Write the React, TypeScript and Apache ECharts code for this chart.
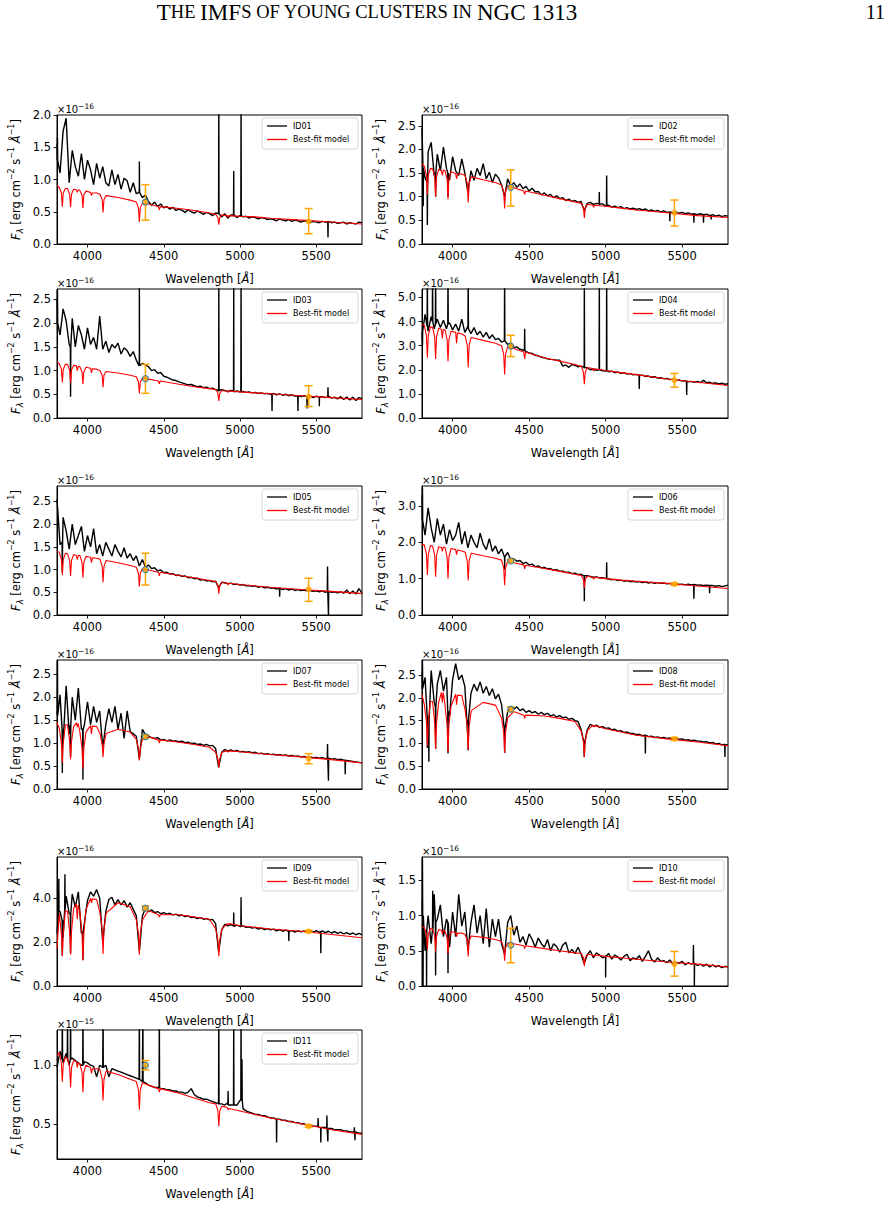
import React, { useEffect, useRef } from "react";
import * as echarts from "echarts";

// ---------------- DATA ----------------
const PANEL_IDS = ["ID01", "ID02", "ID03", "ID04", "ID05", "ID06", "ID07", "ID08", "ID09", "ID10", "ID11"];
const SCALE_EXP = ["−16", "−16", "−16", "−16", "−16", "−16", "−16", "−16", "−16", "−16", "−15"];
const X_MIN = 3800;
const X_MAX = 5800;
const X_TICKS = [4000, 4500, 5000, 5500];
const Y_MIN = [0, 0, 0, 0, 0, 0, 0, 0, 0, 0, 0.2];
const Y_MAX = [2.0, 2.73, 2.72, 5.35, 2.84, 3.55, 2.81, 2.83, 5.89, 1.83, 1.3];
const Y_TICKS = [
  [0, 0.5, 1, 1.5, 2],
  [0, 0.5, 1, 1.5, 2, 2.5],
  [0, 0.5, 1, 1.5, 2, 2.5],
  [0, 1, 2, 3, 4, 5],
  [0, 0.5, 1, 1.5, 2, 2.5],
  [0, 1, 2, 3],
  [0, 0.5, 1, 1.5, 2, 2.5],
  [0, 0.5, 1, 1.5, 2, 2.5],
  [0, 2, 4],
  [0, 0.5, 1, 1.5],
  [0.5, 1.0],
];

// observed spectra sampled every 20 Å from 3800 to 5800 (101 values)
const OBS_WAVE = Array.from({ length: 101 }, (_, i) => 3800 + 20 * i);

const OBS_ID01 = [
  1.55, 1.10, 1.75, 1.95, 0.95, 1.45, 1.20, 1.05, 1.40, 1.00,
  1.30, 1.15, 0.92, 1.25, 1.02, 1.20, 0.95, 0.90, 1.15, 0.92,
  1.08, 0.85, 1.02, 0.98, 0.80, 0.95, 0.78, 0.88, 0.72, 0.76,
  0.66, 0.60, 0.65, 0.58, 0.62, 0.56, 0.58, 0.54, 0.57, 0.52,
  0.54, 0.52, 0.49, 0.53, 0.50, 0.48, 0.51, 0.49, 0.46, 0.49,
  0.47, 0.44, 0.48, 0.46, 0.42, 0.47, 0.40, 0.45, 0.43, 0.41,
  0.44, 0.42, 0.43, 0.40, 0.42, 0.41, 0.39, 0.41, 0.40, 0.38,
  0.39, 0.38, 0.36, 0.39, 0.37, 0.36, 0.38, 0.35, 0.37, 0.36,
  0.34, 0.36, 0.35, 0.33, 0.35, 0.34, 0.33, 0.35, 0.34, 0.36,
  0.33, 0.34, 0.32, 0.33, 0.34, 0.31, 0.33, 0.32, 0.31, 0.34,
  0.33,
];
const OBS_ID02 = [
  2.45, 1.40, 1.95, 2.15, 1.45, 1.90, 1.55, 2.05, 1.60, 1.35,
  1.85, 1.55, 1.45, 1.80, 1.50, 1.10, 1.55, 1.35, 1.60, 1.45,
  1.70, 1.38, 1.52, 1.30, 1.48, 1.40, 1.25, 1.00, 1.38, 1.22,
  1.30, 1.20, 1.27, 1.17, 1.22, 1.12, 1.18, 1.10, 1.11, 1.04,
  1.08, 1.02, 1.05, 0.98, 1.02, 0.96, 0.98, 0.92, 0.95, 0.90,
  0.92, 0.88, 0.90, 0.70, 0.86, 0.88, 0.84, 0.86, 0.82, 0.85,
  0.80, 0.82, 0.78, 0.80, 0.77, 0.79, 0.75, 0.77, 0.74, 0.76,
  0.73, 0.75, 0.72, 0.74, 0.70, 0.72, 0.69, 0.71, 0.68, 0.70,
  0.67, 0.69, 0.66, 0.68, 0.65, 0.67, 0.64, 0.66, 0.63, 0.65,
  0.62, 0.64, 0.61, 0.63, 0.60, 0.62, 0.59, 0.61, 0.58, 0.60,
  0.59,
];
const OBS_ID03 = [
  2.50, 1.75, 2.30, 2.05, 1.55, 2.10, 1.50, 1.95, 1.75, 1.45,
  1.90, 1.55, 1.70, 1.45, 2.15, 1.45, 1.62, 1.38, 1.55, 1.48,
  1.58, 1.35, 1.48, 1.42, 1.30, 1.40, 1.22, 1.30, 1.15, 1.12,
  1.08, 1.00, 1.02, 0.94, 0.96, 0.88, 0.86, 0.83, 0.80, 0.79,
  0.76, 0.74, 0.72, 0.70, 0.71, 0.68, 0.66, 0.67, 0.64, 0.65,
  0.62, 0.63, 0.60, 0.56, 0.60, 0.58, 0.56, 0.58, 0.55, 0.57,
  0.55, 0.56, 0.54, 0.55, 0.53, 0.54, 0.52, 0.53, 0.51, 0.52,
  0.50, 0.52, 0.49, 0.51, 0.48, 0.50, 0.47, 0.49, 0.46, 0.48,
  0.45, 0.47, 0.44, 0.46, 0.43, 0.46, 0.42, 0.45, 0.43, 0.46,
  0.42, 0.44, 0.40, 0.45, 0.39, 0.44, 0.38, 0.44, 0.37, 0.43,
  0.41,
];
const OBS_ID04 = [
  3.30, 4.30, 3.60, 4.20, 3.70, 4.10, 3.75, 4.05, 3.70, 3.95,
  3.65, 3.90, 3.60, 4.10, 3.55, 3.80, 3.50, 3.75, 3.45, 3.60,
  3.35, 3.55, 3.30, 3.45, 3.25, 3.30, 3.15, 3.20, 3.05, 3.10,
  2.92, 2.95, 2.85, 2.82, 2.75, 2.70, 2.68, 2.60, 2.58, 2.52,
  2.50, 2.45, 2.43, 2.42, 2.40, 2.40, 2.15, 2.20, 2.10, 2.22,
  2.18, 2.12, 2.15, 2.05, 2.08, 2.00, 2.03, 1.98, 2.00, 1.96,
  1.95, 1.92, 1.94, 1.88, 1.90, 1.85, 1.88, 1.82, 1.84, 1.79,
  1.81, 1.76, 1.78, 1.73, 1.74, 1.69, 1.71, 1.66, 1.67, 1.63,
  1.64, 1.59, 1.61, 1.56, 1.58, 1.53, 1.55, 1.50, 1.52, 1.48,
  1.52, 1.47, 1.56, 1.46, 1.48, 1.43, 1.46, 1.41, 1.44, 1.40,
  1.42,
];
const OBS_ID05 = [
  2.55, 1.55, 2.15, 1.85, 1.45, 2.00, 1.55, 1.75, 1.95, 1.40,
  1.75, 1.50, 1.90, 1.35, 1.55, 1.30, 1.60, 1.45, 1.30, 1.55,
  1.40, 1.28, 1.48, 1.25, 1.35, 1.20, 1.30, 1.08, 1.22, 1.05,
  1.10, 1.02, 1.04, 0.97, 0.99, 0.93, 0.94, 0.90, 0.91, 0.87,
  0.88, 0.85, 0.86, 0.82, 0.83, 0.80, 0.81, 0.77, 0.78, 0.75,
  0.76, 0.73, 0.74, 0.60, 0.72, 0.71, 0.69, 0.70, 0.67, 0.68,
  0.66, 0.67, 0.64, 0.65, 0.63, 0.64, 0.61, 0.63, 0.60, 0.61,
  0.59, 0.60, 0.57, 0.59, 0.56, 0.58, 0.55, 0.57, 0.54, 0.56,
  0.54, 0.55, 0.53, 0.54, 0.52, 0.53, 0.51, 0.53, 0.50, 0.52,
  0.50, 0.51, 0.49, 0.51, 0.48, 0.55, 0.47, 0.53, 0.46, 0.58,
  0.48,
];
const OBS_ID06 = [
  3.30, 2.20, 2.95, 2.40, 2.00, 2.65, 2.20, 2.50, 1.95, 2.35,
  2.05, 2.20, 2.55, 1.95, 2.30, 1.85, 2.20, 2.00, 1.85, 2.25,
  1.95, 1.80, 2.10, 1.75, 1.90, 1.68, 1.82, 1.58, 1.72, 1.52,
  1.55, 1.48, 1.50, 1.42, 1.45, 1.38, 1.40, 1.33, 1.35, 1.30,
  1.31, 1.27, 1.28, 1.23, 1.25, 1.20, 1.21, 1.17, 1.18, 1.14,
  1.15, 1.11, 1.12, 1.05, 1.08, 1.06, 1.04, 1.05, 1.02, 1.03,
  1.00, 0.99, 0.97, 0.98, 0.95, 0.96, 0.93, 0.95, 0.92, 0.93,
  0.91, 0.92, 0.89, 0.91, 0.88, 0.90, 0.87, 0.89, 0.87, 0.88,
  0.86, 0.87, 0.85, 0.86, 0.84, 0.85, 0.83, 0.85, 0.83, 0.84,
  0.82, 0.83, 0.81, 0.82, 0.80, 0.81, 0.79, 0.81, 0.78, 0.80,
  0.82,
];
const OBS_ID07 = [
  1.70, 2.05, 1.00, 2.25, 1.20, 2.00, 1.50, 2.20, 1.30, 1.40,
  1.90, 1.40, 1.80, 1.45, 1.70, 0.90, 1.40, 1.75, 1.45, 1.80,
  1.30, 1.65, 1.10, 1.70, 1.25, 1.20, 1.15, 0.65, 1.30, 1.18,
  1.15, 1.12, 1.10, 1.12, 1.07, 1.08, 1.05, 1.07, 1.04, 1.05,
  1.03, 1.04, 1.01, 1.02, 0.99, 1.00, 0.97, 0.98, 0.95, 0.97,
  0.94, 0.95, 0.88, 0.47, 0.80, 0.86, 0.83, 0.85, 0.82, 0.84,
  0.81, 0.82, 0.80, 0.81, 0.79, 0.80, 0.77, 0.78, 0.76, 0.77,
  0.75, 0.76, 0.74, 0.75, 0.73, 0.74, 0.72, 0.73, 0.71, 0.72,
  0.70, 0.71, 0.69, 0.70, 0.68, 0.69, 0.67, 0.68, 0.66, 0.67,
  0.65, 0.66, 0.64, 0.65, 0.63, 0.62, 0.61, 0.60, 0.59, 0.58,
  0.57,
];
const OBS_ID08 = [
  2.55, 2.45, 1.30, 2.60, 1.90, 2.30, 2.60, 2.15, 2.45, 1.60,
  2.40, 2.75, 2.40, 2.50, 2.25, 1.10, 2.10, 2.30, 2.15, 2.35,
  2.10, 2.25, 2.05, 2.20, 1.98, 2.08, 1.85, 0.90, 1.70, 1.80,
  1.76, 1.80, 1.72, 1.76, 1.68, 1.72, 1.67, 1.70, 1.64, 1.68,
  1.63, 1.66, 1.60, 1.63, 1.58, 1.61, 1.56, 1.58, 1.53, 1.55,
  1.50, 1.48, 1.30, 0.75, 1.30, 1.42, 1.38, 1.40, 1.35, 1.37,
  1.33, 1.34, 1.30, 1.31, 1.27, 1.28, 1.24, 1.25, 1.22, 1.22,
  1.19, 1.20, 1.17, 1.18, 1.15, 1.16, 1.13, 1.14, 1.12, 1.13,
  1.11, 1.12, 1.10, 1.11, 1.09, 1.10, 1.07, 1.08, 1.06, 1.07,
  1.05, 1.05, 1.03, 1.04, 1.01, 1.02, 0.99, 1.00, 0.97, 0.98,
  0.96,
];
const OBS_ID09 = [
  2.40, 3.40, 2.20, 4.10, 3.30, 4.20, 3.60, 4.30, 2.40, 2.90,
  3.90, 4.30, 4.10, 4.40, 4.00, 2.00, 3.40, 3.95, 4.05, 3.70,
  3.95, 3.70, 3.90, 3.60, 3.80, 3.50, 3.20, 1.60, 3.20, 3.55,
  3.40, 3.48, 3.35, 3.40, 3.30, 3.35, 3.28, 3.32, 3.25, 3.28,
  3.20, 3.24, 3.17, 3.20, 3.12, 3.15, 3.08, 3.12, 3.05, 3.08,
  3.02, 3.04, 2.85, 1.55, 2.55, 2.82, 2.75, 2.80, 2.72, 2.78,
  2.72, 2.75, 2.68, 2.70, 2.64, 2.68, 2.60, 2.64, 2.58, 2.62,
  2.56, 2.60, 2.52, 2.58, 2.50, 2.55, 2.48, 2.53, 2.46, 2.52,
  2.47, 2.52, 2.45, 2.52, 2.45, 2.53, 2.45, 2.52, 2.44, 2.50,
  2.42, 2.48, 2.40, 2.46, 2.38, 2.44, 2.36, 2.42, 2.34, 2.40,
  2.33,
];
const OBS_ID10 = [
  1.20, 0.50, 1.00, 0.60, 1.30, 0.95, 1.15, 0.70, 0.95, 0.55,
  1.05, 0.70, 1.30, 0.85, 1.05, 0.50, 0.90, 1.15, 0.75, 1.00,
  0.60, 1.10, 0.55, 0.95, 0.70, 0.95, 0.60, 0.45, 0.90, 1.00,
  0.72, 0.85, 0.62, 0.70, 0.58, 0.74, 0.66, 0.55, 0.68, 0.60,
  0.55, 0.66, 0.50, 0.60, 0.56, 0.48, 0.58, 0.62, 0.47, 0.52,
  0.46, 0.55, 0.45, 0.32, 0.44, 0.50, 0.40, 0.47, 0.44, 0.40,
  0.43, 0.46, 0.38, 0.44, 0.41, 0.37, 0.42, 0.45, 0.36, 0.40,
  0.38, 0.43, 0.35, 0.42, 0.50, 0.38, 0.34, 0.40, 0.35, 0.36,
  0.33, 0.37, 0.31, 0.34, 0.32, 0.35, 0.30, 0.33, 0.31, 0.33,
  0.29, 0.31, 0.28, 0.31, 0.27, 0.30, 0.27, 0.29, 0.26, 0.28,
  0.27,
];
const OBS_ID11 = [
  0.98, 1.12, 1.02, 1.10, 1.00, 1.06, 1.04, 1.02, 1.00, 1.03,
  1.02, 1.00, 0.99, 0.90, 1.00, 0.98, 1.00, 0.90, 0.97, 0.96,
  0.95, 0.94, 0.93, 0.92, 0.91, 0.90, 0.89, 0.88, 0.86, 0.85,
  0.83, 0.82, 0.81, 0.81, 0.80, 0.80, 0.79, 0.79, 0.78, 0.78,
  0.77, 0.77, 0.76, 0.77, 0.80, 0.75, 0.73, 0.72, 0.71, 0.71,
  0.70, 0.69, 0.68, 0.67, 0.67, 0.66, 0.68, 0.66, 0.67, 0.66,
  0.70, 0.63, 0.61, 0.60, 0.59, 0.58, 0.58, 0.57, 0.57, 0.56,
  0.55, 0.55, 0.54, 0.54, 0.53, 0.53, 0.52, 0.52, 0.51, 0.51,
  0.50, 0.50, 0.49, 0.49, 0.48, 0.48, 0.47, 0.47, 0.47, 0.46,
  0.46, 0.45, 0.45, 0.45, 0.44, 0.44, 0.43, 0.43, 0.43, 0.42,
  0.42,
];

// narrow emission / absorption features: [wavelength, continuum level, peak level]
const SPIKES_ID01 = [[3803, 1.3, 1.65], [4340, 0.80, 1.28], [4861, 0.47, 2.3], [4959, 0.45, 1.13], [5007, 0.44, 2.3], [5577, 0.35, 0.10]];
const SPIKES_ID02 = [[3808, 1.6, 0.8], [3835, 1.3, 0.4], [3889, 1.5, 1.0], [3970, 1.5, 1.0], [4959, 0.85, 1.1], [5007, 0.82, 1.45], [5420, 0.68, 0.48], [5577, 0.64, 0.45], [5640, 0.62, 0.45], [5690, 0.61, 0.52]];
const SPIKES_ID03 = [[3803, 2.0, 2.7], [3889, 1.5, 0.45], [4340, 1.1, 3.0], [4861, 0.58, 3.0], [4959, 0.56, 3.0], [5007, 0.55, 3.0], [5210, 0.51, 0.15], [5380, 0.47, 0.15], [5440, 0.45, 0.2], [5520, 0.44, 0.25], [5577, 0.44, 0.65]];
const SPIKES_ID04 = [[3803, 3.6, 3.0], [3835, 3.8, 6.0], [3869, 4.0, 6.0], [3889, 3.9, 6.0], [3970, 3.9, 6.0], [4102, 3.7, 6.0], [4340, 3.2, 6.0], [4471, 2.8, 3.7], [4861, 2.1, 6.0], [4959, 2.0, 6.0], [5007, 1.96, 6.0], [5220, 1.78, 1.2], [5530, 1.52, 0.95]];
const SPIKES_ID05 = [[3835, 1.6, 0.95], [5260, 0.59, 0.4], [5574, 0.52, 1.07], [5580, 0.52, 0.0]];
const SPIKES_ID06 = [[3803, 2.6, 3.5], [4340, 1.6, 1.25], [4861, 1.08, 0.38], [5007, 1.0, 1.45], [5577, 0.84, 0.45], [5680, 0.81, 0.6]];
const SPIKES_ID07 = [[3803, 1.6, 2.8], [3835, 1.3, 0.35], [3889, 1.4, 0.7], [3970, 1.3, 0.2], [5574, 0.67, 0.98], [5580, 0.67, 0.18], [5690, 0.63, 0.32]];
const SPIKES_ID08 = [[3803, 2.2, 2.83], [3835, 1.6, 0.9], [3845, 1.5, 0.6], [3889, 1.8, 0.88], [3970, 1.7, 0.78], [4102, 1.5, 0.85], [4340, 1.3, 0.79], [4861, 1.0, 0.70], [5260, 1.18, 0.78], [5780, 0.98, 0.7]];
const SPIKES_ID09 = [[3812, 3.4, 4.9], [3835, 3.0, 1.4], [3852, 3.5, 5.1], [3889, 3.3, 1.5], [3970, 2.5, 1.2], [4959, 2.75, 3.35], [5007, 2.72, 4.05], [5320, 2.5, 2.05], [5530, 2.48, 1.5]];
const SPIKES_ID10 = [[3803, 1.0, 1.8], [3807, 1.0, 0.0], [3830, 0.8, 0.0], [3870, 0.8, 1.35], [3889, 0.9, 0.15], [3970, 0.9, 0.18], [5000, 0.42, 0.12], [5574, 0.32, 0.58], [5580, 0.32, 0.0]];
const SPIKES_ID11 = [[3835, 1.05, 1.5], [3869, 1.05, 1.5], [3889, 1.05, 1.5], [3970, 1.0, 1.5], [4102, 0.98, 1.5], [4340, 0.88, 1.5], [4363, 0.86, 1.5], [4471, 0.81, 1.5], [4861, 0.67, 1.5], [4922, 0.66, 0.78], [4959, 0.66, 1.5], [5007, 0.7, 1.5], [5013, 0.7, 1.05], [5240, 0.54, 0.34], [5512, 0.48, 0.55], [5530, 0.47, 0.34], [5570, 0.46, 0.57], [5576, 0.46, 0.35], [5750, 0.43, 0.47], [5754, 0.43, 0.36]];

// best-fit models sampled at these wavelengths
const MODEL_WAVE = [
  3800, 3815, 3829, 3835, 3841, 3855, 3869, 3883, 3889, 3895,
  3909, 3927, 3933, 3939, 3950, 3964, 3970, 3976, 3990, 4020,
  4026, 4032, 4060, 4082, 4096, 4102, 4108, 4122, 4200, 4280,
  4320, 4334, 4340, 4346, 4360, 4400, 4465, 4471, 4477, 4600,
  4700, 4800, 4841, 4855, 4861, 4867, 4881, 4916, 4922, 4928,
  5000, 5100, 5200, 5400, 5600, 5800,
];
const MODEL_ID01 = [
  0.90, 0.88, 0.79, 0.58, 0.79, 0.86, 0.86, 0.77, 0.57, 0.77,
  0.85, 0.84, 0.80, 0.84, 0.83, 0.76, 0.56, 0.76, 0.82, 0.80,
  0.75, 0.79, 0.79, 0.77, 0.69, 0.49, 0.69, 0.75, 0.72, 0.68,
  0.65, 0.56, 0.34, 0.56, 0.63, 0.62, 0.58, 0.53, 0.58, 0.55,
  0.52, 0.48, 0.46, 0.41, 0.30, 0.41, 0.45, 0.44, 0.42, 0.44,
  0.43, 0.42, 0.40, 0.37, 0.34, 0.31,
];
const MODEL_ID02 = [
  1.70, 1.65, 1.45, 1.05, 1.45, 1.60, 1.59, 1.42, 1.00, 1.42,
  1.58, 1.56, 1.45, 1.56, 1.56, 1.38, 0.95, 1.38, 1.53, 1.49,
  1.38, 1.48, 1.48, 1.45, 1.28, 0.88, 1.28, 1.42, 1.36, 1.30,
  1.25, 1.11, 0.75, 1.11, 1.23, 1.19, 1.12, 1.05, 1.12, 1.03,
  0.96, 0.89, 0.86, 0.77, 0.55, 0.77, 0.84, 0.82, 0.78, 0.82,
  0.80, 0.76, 0.72, 0.66, 0.60, 0.56,
];
const MODEL_ID03 = [
  1.17, 1.15, 1.03, 0.75, 1.03, 1.13, 1.13, 1.01, 0.74, 1.01,
  1.11, 1.10, 1.00, 1.09, 1.08, 0.97, 0.72, 0.97, 1.07, 1.05,
  0.95, 1.04, 1.03, 1.00, 0.90, 0.65, 0.90, 0.98, 0.95, 0.90,
  0.87, 0.76, 0.52, 0.76, 0.84, 0.82, 0.78, 0.72, 0.78, 0.71,
  0.66, 0.62, 0.60, 0.52, 0.36, 0.52, 0.58, 0.57, 0.54, 0.57,
  0.55, 0.53, 0.51, 0.47, 0.43, 0.39,
];
const MODEL_ID04 = [
  3.90, 3.84, 3.42, 2.50, 3.42, 3.78, 3.76, 3.36, 2.45, 3.36,
  3.72, 3.68, 3.30, 3.67, 3.66, 3.26, 2.35, 3.26, 3.60, 3.55,
  3.10, 3.53, 3.48, 3.40, 3.01, 2.10, 3.01, 3.34, 3.22, 3.10,
  3.00, 2.64, 1.80, 2.64, 2.96, 2.88, 2.74, 2.45, 2.73, 2.50,
  2.36, 2.22, 2.14, 1.90, 1.40, 1.90, 2.09, 2.05, 1.95, 2.04,
  1.97, 1.88, 1.80, 1.62, 1.48, 1.35,
];
const MODEL_ID05 = [
  1.40, 1.38, 1.22, 0.88, 1.22, 1.36, 1.35, 1.20, 0.86, 1.20,
  1.33, 1.31, 1.22, 1.31, 1.31, 1.16, 0.82, 1.16, 1.29, 1.27,
  1.15, 1.26, 1.25, 1.23, 1.07, 0.72, 1.07, 1.20, 1.15, 1.09,
  1.05, 0.92, 0.63, 0.92, 1.02, 0.99, 0.94, 0.86, 0.94, 0.87,
  0.82, 0.76, 0.74, 0.65, 0.47, 0.65, 0.72, 0.70, 0.66, 0.70,
  0.67, 0.64, 0.61, 0.56, 0.52, 0.47,
];
const MODEL_ID06 = [
  1.95, 1.93, 1.67, 1.10, 1.67, 1.91, 1.90, 1.64, 1.05, 1.64,
  1.88, 1.86, 1.75, 1.86, 1.86, 1.59, 1.00, 1.59, 1.83, 1.80,
  1.66, 1.79, 1.76, 1.73, 1.49, 0.95, 1.49, 1.70, 1.63, 1.56,
  1.51, 1.30, 0.82, 1.30, 1.48, 1.44, 1.38, 1.27, 1.37, 1.28,
  1.20, 1.12, 1.09, 0.98, 0.75, 0.98, 1.07, 1.04, 0.98, 1.04,
  1.00, 0.96, 0.93, 0.87, 0.80, 0.73,
];
const MODEL_ID07 = [
  1.45, 1.32, 1.00, 0.58, 1.00, 1.40, 1.40, 1.03, 0.65, 1.03,
  1.36, 1.44, 1.35, 1.43, 1.24, 0.89, 0.44, 0.89, 1.24, 1.38,
  1.20, 1.37, 1.36, 1.21, 0.98, 0.69, 0.98, 1.21, 1.30, 1.24,
  1.08, 0.88, 0.62, 0.88, 1.08, 1.14, 1.07, 1.00, 1.07, 1.02,
  0.97, 0.91, 0.80, 0.65, 0.47, 0.65, 0.80, 0.83, 0.80, 0.83,
  0.81, 0.78, 0.75, 0.70, 0.64, 0.57,
];
const MODEL_ID08 = [
  2.08, 1.85, 1.48, 0.95, 1.48, 1.92, 1.92, 1.45, 0.88, 1.45,
  1.90, 2.12, 1.90, 2.12, 1.85, 1.40, 0.80, 1.40, 1.82, 2.08,
  1.85, 2.06, 2.05, 1.73, 1.37, 0.85, 1.37, 1.72, 1.90, 1.84,
  1.56, 1.24, 0.79, 1.24, 1.56, 1.70, 1.62, 1.55, 1.62, 1.60,
  1.55, 1.48, 1.27, 1.04, 0.70, 1.04, 1.28, 1.40, 1.36, 1.39,
  1.32, 1.25, 1.18, 1.10, 1.03, 0.95,
];
const MODEL_ID09 = [
  1.70, 3.30, 2.38, 1.36, 2.38, 3.45, 3.40, 2.47, 1.43, 2.47,
  3.55, 3.75, 3.05, 3.70, 3.40, 2.37, 1.16, 2.37, 3.50, 4.00,
  3.80, 3.98, 3.95, 3.33, 2.58, 1.46, 2.58, 3.33, 3.80, 3.62,
  3.02, 2.38, 1.43, 2.38, 3.02, 3.45, 3.25, 3.15, 3.25, 3.25,
  3.15, 3.05, 2.60, 2.08, 1.36, 2.08, 2.60, 2.85, 2.78, 2.85,
  2.75, 2.68, 2.60, 2.50, 2.35, 2.20,
];
const MODEL_ID10 = [
  0.84, 0.83, 0.73, 0.52, 0.73, 0.82, 0.81, 0.71, 0.49, 0.71,
  0.80, 0.79, 0.74, 0.79, 0.78, 0.68, 0.45, 0.68, 0.77, 0.76,
  0.70, 0.75, 0.75, 0.73, 0.64, 0.42, 0.64, 0.71, 0.69, 0.66,
  0.63, 0.54, 0.36, 0.54, 0.61, 0.60, 0.57, 0.53, 0.57, 0.53,
  0.50, 0.47, 0.46, 0.40, 0.28, 0.40, 0.45, 0.44, 0.42, 0.44,
  0.42, 0.40, 0.38, 0.34, 0.31, 0.27,
];
const MODEL_ID11 = [
  1.08, 1.11, 1.01, 0.86, 1.01, 1.07, 1.06, 0.98, 0.81, 0.98,
  1.04, 1.03, 0.98, 1.02, 1.01, 0.94, 0.77, 0.94, 1.00, 0.98,
  0.93, 0.97, 0.97, 0.96, 0.88, 0.70, 0.88, 0.95, 0.92, 0.88,
  0.86, 0.79, 0.62, 0.79, 0.85, 0.83, 0.80, 0.77, 0.80, 0.76,
  0.72, 0.68, 0.67, 0.61, 0.48, 0.61, 0.65, 0.64, 0.62, 0.63,
  0.61, 0.58, 0.55, 0.50, 0.45, 0.41,
];

// photometric points: [wavelength, flux, lower, upper]
const PHOT_ID01 = [[4380, 0.65, 0.37, 0.92], [5450, 0.35, 0.16, 0.55]];
const PHOT_ID02 = [[4380, 1.20, 0.80, 1.57], [5450, 0.66, 0.38, 0.93]];
const PHOT_ID03 = [[4380, 0.83, 0.52, 1.13], [5450, 0.45, 0.24, 0.68]];
const PHOT_ID04 = [[4380, 2.98, 2.55, 3.43], [5450, 1.57, 1.28, 1.85]];
const PHOT_ID05 = [[4380, 1.00, 0.66, 1.36], [5450, 0.57, 0.30, 0.81]];
const PHOT_ID06 = [[4380, 1.49, 1.45, 1.53], [5450, 0.85, 0.82, 0.88]];
const PHOT_ID07 = [[4380, 1.14, 1.10, 1.18], [5450, 0.66, 0.55, 0.77]];
const PHOT_ID08 = [[4380, 1.75, 1.70, 1.80], [5450, 1.10, 1.07, 1.13]];
const PHOT_ID09 = [[4380, 3.55, 3.45, 3.65], [5450, 2.49, 2.44, 2.54]];
const PHOT_ID10 = [[4380, 0.58, 0.33, 0.82], [5450, 0.31, 0.14, 0.49]];
const PHOT_ID11 = [[4380, 1.00, 0.96, 1.04], [5450, 0.48, 0.47, 0.49]];

const OBS = [OBS_ID01, OBS_ID02, OBS_ID03, OBS_ID04, OBS_ID05, OBS_ID06, OBS_ID07, OBS_ID08, OBS_ID09, OBS_ID10, OBS_ID11];
const SPIKES = [SPIKES_ID01, SPIKES_ID02, SPIKES_ID03, SPIKES_ID04, SPIKES_ID05, SPIKES_ID06, SPIKES_ID07, SPIKES_ID08, SPIKES_ID09, SPIKES_ID10, SPIKES_ID11];
const MODELS = [MODEL_ID01, MODEL_ID02, MODEL_ID03, MODEL_ID04, MODEL_ID05, MODEL_ID06, MODEL_ID07, MODEL_ID08, MODEL_ID09, MODEL_ID10, MODEL_ID11];
const PHOT = [PHOT_ID01, PHOT_ID02, PHOT_ID03, PHOT_ID04, PHOT_ID05, PHOT_ID06, PHOT_ID07, PHOT_ID08, PHOT_ID09, PHOT_ID10, PHOT_ID11];

// ---------------- LAYOUT ----------------
const COL_LEFT = [57, 422];
const COL_WIDTH = [305, 306];
const ROW_TOP = [115, 289, 486, 660, 857, 1030];
const PANEL_H = 129;
const FONT = "DejaVu Sans";
const ORANGE = "#FFA500";

function buildObs(flux: number[], spikes: number[][]) {
  const pts: number[][] = OBS_WAVE.map((w, i) => [w, flux[i]]);
  spikes.forEach(([l, b, p]) => {
    pts.push([l - 1.5, b], [l, p], [l + 1.5, b]);
  });
  pts.sort((a, b) => a[0] - b[0]);
  return pts;
}

const NAME_RICH = {
  i: { fontStyle: "italic", fontSize: 11.5, fontFamily: FONT, color: "#000", verticalAlign: "middle" },
  sub: { fontStyle: "italic", fontSize: 8.5, fontFamily: FONT, color: "#000", verticalAlign: "bottom" },
  sup: { fontSize: 8, fontFamily: FONT, color: "#000", verticalAlign: "top" },
};

function buildOption() {
  const grids: any[] = [];
  const xAxes: any[] = [];
  const yAxes: any[] = [];
  const series: any[] = [];
  const graphics: any[] = [];

  PANEL_IDS.forEach((id, i) => {
    const row = Math.floor(i / 2);
    const col = i % 2;
    const left = COL_LEFT[col];
    const width = COL_WIDTH[col];
    const top = ROW_TOP[row];
    grids.push({ left, top, width, height: PANEL_H, show: true, borderColor: "#000", borderWidth: 1, backgroundColor: "transparent" });
    xAxes.push({
      gridIndex: i, type: "value", min: X_MIN, max: X_MAX,
      axisLine: { show: true, lineStyle: { color: "#000", width: 1 } },
      axisTick: { show: true, length: 3.5, lineStyle: { color: "#000", width: 0.9 }, customValues: X_TICKS },
      axisLabel: { customValues: X_TICKS, color: "#000", fontSize: 11.5, fontFamily: FONT, margin: 6, formatter: (v: number) => String(v) },
      splitLine: { show: false },
      name: "Wavelength [{i|Å}]", nameLocation: "middle", nameGap: 29,
      nameTextStyle: { color: "#000", fontSize: 11.5, fontFamily: FONT, rich: { i: NAME_RICH.i } },
    });
    yAxes.push({
      gridIndex: i, type: "value", min: Y_MIN[i], max: Y_MAX[i],
      axisLine: { show: true, lineStyle: { color: "#000", width: 1 } },
      axisTick: { show: true, length: 3.5, lineStyle: { color: "#000", width: 0.9 }, customValues: Y_TICKS[i] },
      axisLabel: { customValues: Y_TICKS[i], color: "#000", fontSize: 11.5, fontFamily: FONT, margin: 6, formatter: (v: number) => v.toFixed(1) },
      splitLine: { show: false },
      name: "{i|F}{sub|λ} [erg cm{sup|−2} s{sup|−1} {i|Å}{sup|−1}]", nameLocation: "middle", nameRotate: 90, nameGap: 33,
      nameTextStyle: { color: "#000", fontSize: 11.5, fontFamily: FONT, lineHeight: 17, rich: NAME_RICH },
    });

    series.push({
      name: id, type: "line", xAxisIndex: i, yAxisIndex: i, data: buildObs(OBS[i], SPIKES[i]),
      showSymbol: false, symbol: "none", clip: true, lineStyle: { color: "#000", width: 1.4 }, z: 2,
    });
    series.push({
      name: "Best-fit model", type: "line", xAxisIndex: i, yAxisIndex: i,
      data: MODEL_WAVE.map((w, k) => [w, MODELS[i][k]]),
      showSymbol: false, symbol: "none", clip: true, lineStyle: { color: "#ff0000", width: 1.1 }, z: 3,
    });
    series.push({
      type: "custom", xAxisIndex: i, yAxisIndex: i, z: 5,
      data: PHOT[i].map((p) => [p[0], p[2], p[3]]),
      encode: { x: 0, y: [1, 2] },
      renderItem: (params: any, api: any) => {
        const lo = api.coord([api.value(0), api.value(1)]);
        const hi = api.coord([api.value(0), api.value(2)]);
        const st = { stroke: ORANGE, lineWidth: 1.5 };
        return {
          type: "group",
          children: [
            { type: "line", shape: { x1: lo[0], y1: lo[1], x2: hi[0], y2: hi[1] }, style: st },
            { type: "line", shape: { x1: lo[0] - 4, y1: lo[1], x2: lo[0] + 4, y2: lo[1] }, style: st },
            { type: "line", shape: { x1: hi[0] - 4, y1: hi[1], x2: hi[0] + 4, y2: hi[1] }, style: st },
          ],
        };
      },
    });
    series.push({
      type: "scatter", xAxisIndex: i, yAxisIndex: i, z: 6, symbol: "circle", symbolSize: 6,
      data: [[PHOT[i][0][0], PHOT[i][0][1]]],
      itemStyle: { color: ORANGE, borderColor: "#1f77b4", borderWidth: 1.2 },
    });
    series.push({
      type: "scatter", xAxisIndex: i, yAxisIndex: i, z: 6, symbol: "circle", symbolSize: 6,
      data: [[PHOT[i][1][0], PHOT[i][1][1]]],
      itemStyle: { color: ORANGE },
    });

    // legend box
    const bx = left + width - 100;
    const by = top + 3;
    graphics.push({ type: "rect", z: 100, shape: { x: bx, y: by, width: 96, height: 31, r: 2.5 }, style: { fill: "rgba(255,255,255,0.85)", stroke: "#cccccc", lineWidth: 0.8 } });
    graphics.push({ type: "line", z: 101, shape: { x1: bx + 5, y1: by + 8, x2: bx + 25, y2: by + 8 }, style: { stroke: "#000", lineWidth: 1.3 } });
    graphics.push({ type: "line", z: 101, shape: { x1: bx + 5, y1: by + 21.5, x2: bx + 25, y2: by + 21.5 }, style: { stroke: "#ff0000", lineWidth: 1.3 } });
    graphics.push({ type: "text", z: 101, style: { text: id, x: bx + 31, y: by + 8, fontSize: 8, fontFamily: FONT, fill: "#000", verticalAlign: "middle", align: "left" } });
    graphics.push({ type: "text", z: 101, style: { text: "Best-fit model", x: bx + 31, y: by + 21.5, fontSize: 8, fontFamily: FONT, fill: "#000", verticalAlign: "middle", align: "left" } });
    // scale factor
    graphics.push({
      type: "text", z: 101,
      style: {
        text: "×10{sup|" + SCALE_EXP[i] + "}", x: left, y: top - 6, fontSize: 10, fontFamily: FONT, fill: "#000",
        verticalAlign: "middle", align: "left", lineHeight: 13,
        rich: { sup: { fontSize: 7.5, fontFamily: FONT, fill: "#000", verticalAlign: "top" } },
      },
    });
  });

  // running header
  graphics.push({
    type: "text", z: 101,
    style: {
      text: "{b|T}{s|HE} {b|IMF}{s|S OF YOUNG CLUSTERS IN} {b|NGC 1313}",
      x: 367, y: 12, align: "center", verticalAlign: "middle",
      fontSize: 18.5, fontFamily: "Liberation Serif", fill: "#000",
      rich: {
        b: { fontSize: 23, fontFamily: "Liberation Serif", fill: "#000" },
        s: { fontSize: 18.5, fontFamily: "Liberation Serif", fill: "#000" },
      },
    },
  });
  graphics.push({ type: "text", z: 101, style: { text: "11", x: 885, y: 12, align: "right", verticalAlign: "middle", fontSize: 20, fontFamily: "Liberation Serif", fill: "#000" } });

  return {
    animation: false,
    backgroundColor: "#fff",
    grid: grids,
    xAxis: xAxes,
    yAxis: yAxes,
    series,
    graphic: { elements: graphics },
  };
}

export default function App() {
  const ref = useRef<HTMLDivElement>(null);
  useEffect(() => {
    if (!ref.current) return;
    const chart = echarts.init(ref.current, null, { renderer: "svg" });
    chart.setOption(buildOption() as any);
    return () => chart.dispose();
  }, []);
  return <div ref={ref} style={{ position: "absolute", left: 0, top: 0, width: 890, height: 1226, background: "#fff" }} />;
}
